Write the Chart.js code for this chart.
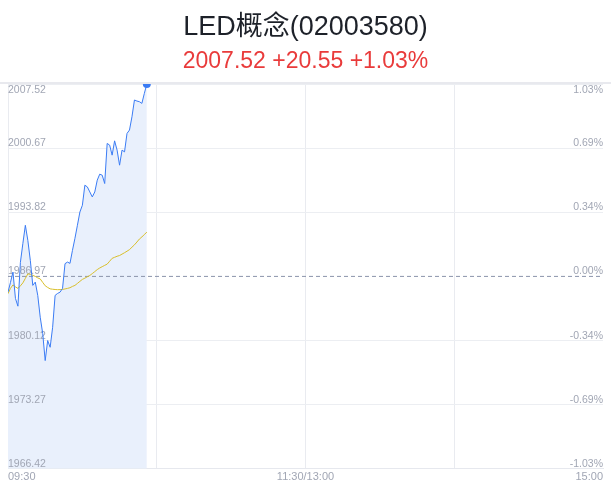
<!DOCTYPE html>
<html>
<head>
<meta charset="utf-8">
<script src="https://cdn.jsdelivr.net/npm/chart.js@4.4.1/dist/chart.umd.min.js"></script>
<style>
html, body { margin: 0; padding: 0; background: #fff; }
#wrap { position: relative; width: 611px; height: 492px; }
#title { position: absolute; left: 0; top: 10px; width: 611px; text-align: center;
  font: 27px "Liberation Sans", "Noto Sans CJK SC", sans-serif; color: #1d2129; line-height: 32px; }
#sub { position: absolute; left: 0; top: 47px; width: 611px; text-align: center;
  font: 23px "Liberation Sans", sans-serif; color: #e93b3b; line-height: 26px; }
canvas { position: absolute; left: 0; top: 0; }
</style>
</head>
<body>
<div id="wrap">
  <canvas id="canvasFenshi" width="611" height="492"></canvas>
  <div id="title">LED概念(02003580)</div>
  <div id="sub">2007.52 +20.55 +1.03%</div>
</div>
<script>
// minutes since 09:30 (morning + afternoon = 240)
var timeTicks = [0, 60, 120, 180, 240];
var timeLabels = { 0: '09:30', 120: '11:30/13:00', 240: '15:00' };

var prevClose = 1986.97;
var priceTicks = [2007.52, 2000.67, 1993.82, 1986.97, 1980.12, 1973.27, 1966.42];
var pctTicks = ['1.03%', '0.69%', '0.34%', '0.00%', '-0.34%', '-0.69%', '-1.03%'];

var priceLine = [
  1985.29, 1986.33, 1987.43, 1984.62, 1983.79, 1988.47, 1990.50, 1992.43, 1990.82, 1988.68,
  1986.01, 1986.36, 1984.94, 1982.61, 1980.87, 1977.98, 1980.12, 1979.40, 1981.54, 1984.94,
  1985.15, 1985.29, 1985.69, 1988.33, 1988.50, 1988.36, 1989.75, 1991.04, 1992.43, 1993.85,
  1994.57, 1996.71, 1996.53, 1995.99, 1995.46, 1995.99, 1997.25, 1997.89, 1997.78, 1996.89,
  2001.17, 2000.99, 1999.92, 2001.45, 2000.46, 1998.85, 2000.46, 2000.27, 2002.24, 2002.60,
  2004.02, 2005.81, 2005.70, 2005.63, 2005.45, 2006.52, 2007.52
];

var avgLine = [
  1985.12, 1985.69, 1986.06, 1985.85, 1985.69, 1985.96, 1986.28, 1986.76, 1987.24, 1987.19,
  1987.08, 1986.97, 1986.81, 1986.70, 1986.33, 1985.97, 1985.79, 1985.64, 1985.60, 1985.57,
  1985.55, 1985.56, 1985.58, 1985.63, 1985.69, 1985.76, 1985.90, 1986.01, 1986.22, 1986.44,
  1986.65, 1986.78, 1986.93, 1987.07, 1987.27, 1987.48, 1987.70, 1987.87, 1988.01, 1988.15,
  1988.28, 1988.59, 1988.90, 1989.01, 1989.12, 1989.20, 1989.35, 1989.50, 1989.66, 1989.83,
  1990.09, 1990.34, 1990.64, 1990.96, 1991.18, 1991.45, 1991.69
];

function toPoints(arr) {
  return arr.map(function (v, i) { return { x: i, y: v }; });
}

var labelColor = '#a1a6b4';
var lastIdx = priceLine.length - 1;

// rotulos de los ejes dentro del area
var axisLabels = {
  id: 'axisLabels',
  beforeDraw: function (chart) {
    var ctx = chart.ctx, area = chart.chartArea;
    ctx.save();
    ctx.fillStyle = '#e8e9ee';
    ctx.fillRect(0, area.top - 2, chart.width, 2);
    ctx.restore();
  },
  beforeDatasetsDraw: function (chart) {
    var ctx = chart.ctx, area = chart.chartArea;
    var y = chart.scales.y;
    ctx.save();
    ctx.font = '10.5px "Liberation Sans", sans-serif';
    ctx.fillStyle = labelColor;
    priceTicks.forEach(function (v, i) {
      var py = y.getPixelForValue(v);
      if (i === 0) {
        ctx.textBaseline = 'top';
        py = py + 1;
      } else {
        ctx.textBaseline = 'alphabetic';
        py = py - 2;
      }
      ctx.textAlign = 'left';
      ctx.fillText(v.toFixed(2), area.left, py);
      ctx.textAlign = 'right';
      ctx.fillText(pctTicks[i], area.right, py);
    });
    ctx.restore();
  }
};

var ctx = document.getElementById('canvasFenshi').getContext('2d');
window.myLine = new Chart(ctx, {
  type: 'line',
  data: {
    datasets: [
      {
        label: 'price',
        data: toPoints(priceLine),
        borderColor: '#3b7cf4',
        borderWidth: 1,
        backgroundColor: '#e9f0fc',
        fill: 'start',
        tension: 0,
        pointRadius: function (c) { return c.dataIndex === lastIdx ? 4 : 0; },
        pointBackgroundColor: '#3b7cf4',
        pointBorderWidth: 0
      },
      {
        label: 'avg',
        data: toPoints(avgLine),
        borderColor: '#d8be2a',
        borderWidth: 1,
        fill: false,
        tension: 0,
        pointRadius: 0
      },
      {
        label: 'prevClose',
        data: [{ x: 0, y: prevClose }, { x: 240, y: prevClose }],
        borderColor: '#8a93ab',
        borderWidth: 1,
        borderDash: [4, 3],
        fill: false,
        pointRadius: 0
      }
    ]
  },
  options: {
    responsive: false,
    animation: false,
    events: [],
    layout: { padding: { left: 8, right: 8, top: 84, bottom: 6 } },
    plugins: {
      legend: { display: false },
      tooltip: { enabled: false },
      filler: { drawTime: 'beforeDatasetsDraw' }
    },
    scales: {
      x: {
        type: 'linear',
        min: 0,
        max: 240,
        afterBuildTicks: function (scale) {
          scale.ticks = timeTicks.map(function (v) { return { value: v }; });
        },
        grid: {
          drawTicks: false,
          color: function (c) { return c.tick && c.tick.value === 240 ? 'rgba(0,0,0,0)' : '#e9ebf0'; }
        },
        border: { display: true, color: '#e6e8ee' },
        ticks: {
          autoSkip: false,
          maxRotation: 0,
          align: 'inner',
          padding: 2,
          color: labelColor,
          font: { family: '"Liberation Sans", sans-serif', size: 11 },
          callback: function (v) { return timeLabels[v] !== undefined ? timeLabels[v] : ''; }
        }
      },
      y: {
        type: 'linear',
        min: priceTicks[priceTicks.length - 1],
        max: priceTicks[0],
        afterBuildTicks: function (scale) {
          scale.ticks = priceTicks.map(function (v) { return { value: v }; });
        },
        grid: {
          drawTicks: false,
          color: function (c) {
            return c.tick && c.tick.value === prevClose ? 'rgba(0,0,0,0)' : '#eceef2';
          }
        },
        border: { display: false },
        ticks: { display: false }
      }
    }
  },
  plugins: [axisLabels]
});
</script>
</body>
</html>
